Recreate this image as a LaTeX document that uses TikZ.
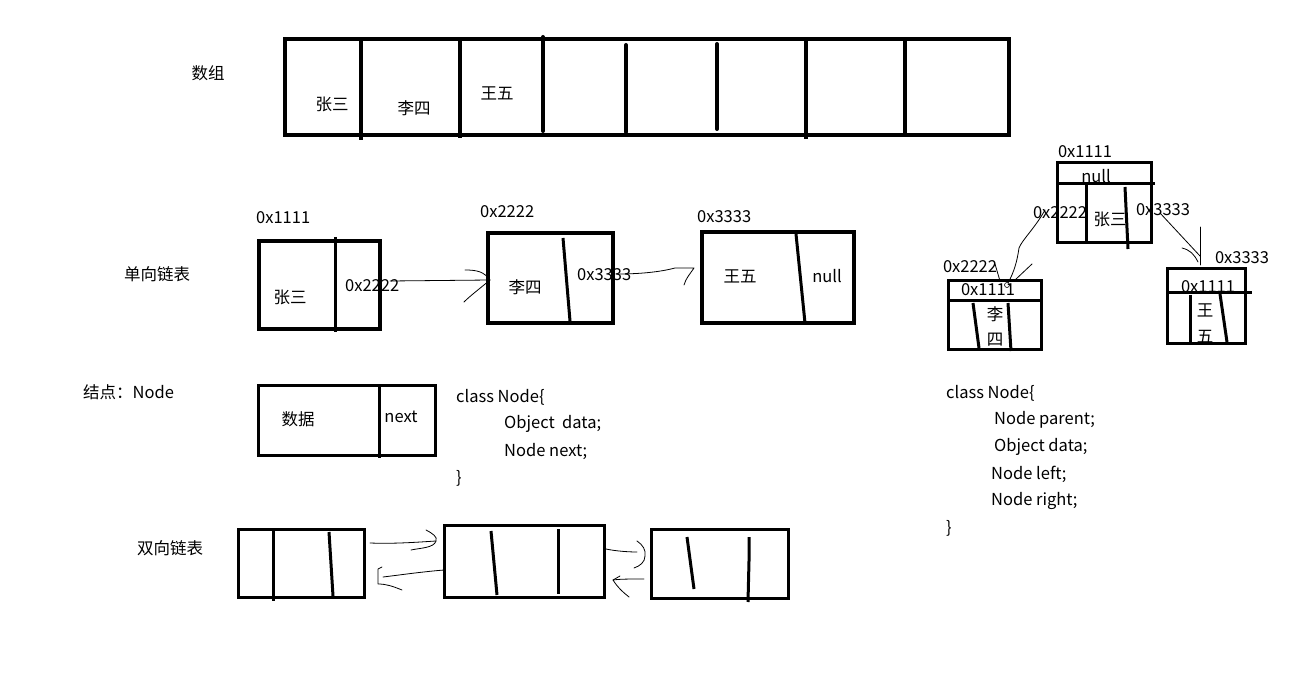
\documentclass[tikz,border=0pt]{standalone}
\usepackage{fontspec}
\setmainfont{Noto Sans CJK SC}
\begin{document}
\begin{tikzpicture}[x=1pt,y=-1pt,
  heavybox/.style={draw, line width=4pt, inner sep=0pt, outer sep=0pt},
  box/.style={draw, line width=3pt, inner sep=0pt, outer sep=0pt},
  div/.style={line width=3pt},
  heavydiv/.style={line width=4pt},
  txt/.style={inner sep=0pt, font=\fontsize{16.5}{19}\selectfont},
  code/.style={txt, anchor=west},
  hand/.style={line width=0.8pt, line cap=round, line join=round}]
\useasboundingbox (0,0) rectangle (1315,676);
\fill[white] (0,0) rectangle (1315,676);

% ---- left labels
\node[txt] (lArr) at (208,73) {数组};
\node[txt] (lSingle) at (157,274) {单向链表};
\node[txt, anchor=west] (lNode) at (83,392) {结点：Node};
\node[txt] (lDouble) at (170,548) {双向链表};

% ---- array
\node[heavybox, minimum width=724, minimum height=96] (arr) at (647,87) {};
\draw[heavydiv] (361,39) -- (361,140);
\draw[heavydiv] (460,39) -- (460,138);
\draw[heavydiv, line cap=round] (543,37) -- (543,131);
\draw[heavydiv, line cap=round] (626,45) -- (626,132);
\draw[heavydiv, line cap=round] (717,44) -- (717,129);
\draw[heavydiv] (806,39) -- (806,139);
\draw[heavydiv] (905,39) -- (905,135);
\node[txt] (a0) at (332,104) {张三};
\node[txt] (a1) at (414,108) {李四};
\node[txt] (a2) at (497,93) {王五};

% ---- singly linked list
\node[heavybox, minimum width=121, minimum height=88] (n1) at (319.5,285) {};
\draw[div] (335,237) -- (335,332);
\node[txt, anchor=west] (n1addr) at (256,218) {0x1111};
\node[txt] (n1d) at (290,297) {张三};
\node[txt, anchor=west] (n1n) at (345,286) {0x2222};

\node[heavybox, minimum width=125, minimum height=90] (n2) at (550.5,278) {};
\draw[div] (563,238) -- (570,321);
\node[txt, anchor=west] (n2addr) at (480,212) {0x2222};
\node[txt] (n2d) at (525,287) {李四};
\node[txt, anchor=west] (n2n) at (577,275) {0x3333};

\node[heavybox, minimum width=152, minimum height=91] (n3) at (778,277.5) {};
\draw[div] (796,234) -- (805,323);
\node[txt, anchor=west] (n3addr) at (697,217) {0x3333};
\node[txt] (n3d) at (740,276) {王五};
\node[txt] (n3n) at (827,276) {null};

\coordinate (s1a) at (390,281);
\coordinate (s1b) at (490,280);
\draw[hand] (s1a) -- (s1b);
\draw[hand] (465,270) .. controls (478,270) and (484,272) .. (s1b) .. controls (478,290) and (470,296) .. (464,302);
\coordinate (s2a) at (617,274);
\coordinate (s2b) at (694,268);
\draw[hand] (s2a) .. controls (640,274) and (660,272) .. (675,268) -- (s2b) .. controls (690,274) and (686,278) .. (684,285);

% ---- node structure
\node[box, minimum width=177, minimum height=70] (nd) at (346.5,420) {};
\draw[div] (379,385) -- (379,458);
\node[txt] (ndd) at (298,419) {数据};
\node[txt] (ndn) at (401,417) {next};
\node[code] (c1) at (456,397) {class Node\{};
\node[code] (c2) at (504,424) {Object\ \ data;};
\node[code] (c3) at (504,451) {Node next;};
\node[code] (c4) at (456,478) {\}};

% ---- doubly linked list
\node[box, minimum width=126, minimum height=68] (d1) at (301,563) {};
\draw[div] (273,529) -- (273,601);
\draw[div] (329,532) -- (333,596);
\node[box, minimum width=160, minimum height=72] (d2) at (524,561) {};
\draw[div] (491,531) -- (497,595);
\draw[div] (558,529) -- (558,594);
\node[box, minimum width=137, minimum height=69] (d3) at (719.5,563.5) {};
\draw[div] (687,537) -- (694,589);
\draw[div] (749,537) -- (749,561) -- (748,602);

\coordinate (dA1) at (370,543);
\coordinate (dA2) at (436,541);
\draw[hand] (dA1) .. controls (395,544) and (420,542) .. (dA2);
\draw[hand] (426,530) .. controls (432,533) and (438,537) .. (dA2) .. controls (434,548) and (420,548) .. (411,550);
\coordinate (dB1) at (444,570);
\coordinate (dB2) at (383,577);
\draw[hand] (dB1) .. controls (420,572) and (400,575) .. (dB2);
\draw[hand] (382,567) -- (378,569) -- (378,584) .. controls (386,584) and (392,586) .. (402,590);
\coordinate (dC1) at (606,549);
\coordinate (dC2) at (637,552);
\draw[hand] (dC1) .. controls (615,551) and (628,552) .. (dC2);
\draw[hand] (637,541) .. controls (643,545) and (646,550) .. (645,556) .. controls (645,562) and (640,566) .. (634,568);
\coordinate (dD1) at (644,579);
\coordinate (dD2) at (613,580);
\draw[hand] (dD1) .. controls (630,579) and (620,579) .. (dD2);
\draw[hand] (620,576) -- (dD2) .. controls (618,588) and (624,593) .. (629,597);

% ---- tree
\node[box, minimum width=94, minimum height=80] (t0) at (1104.5,202.5) {};
\draw[div] (1057,184) -- (1155,184);
\draw[div] (1086,184) -- (1086,242);
\draw[div] (1125,187) -- (1128,249);
\node[txt] (t0addr) at (1085,152) {0x1111};
\node[txt] (t0p) at (1096,176) {null};
\node[txt] (t0d) at (1110,219) {张三};
\node[txt] (t0l) at (1060,213) {0x2222};
\node[txt] (t0r) at (1163,210) {0x3333};

\node[box, minimum width=93, minimum height=69] (t1) at (994.5,315.5) {};
\draw[div] (948,301) -- (1041,301);
\draw[div] (973,303) -- (979,348);
\draw[div] (1008,303) -- (1011,351);
\node[txt] (t1addr) at (970,267) {0x2222};
\node[txt] (t1p) at (988,290) {0x1111};
\node[txt] (t1d1) at (995,314) {李};
\node[txt] (t1d2) at (995,340) {四};

\node[box, minimum width=78, minimum height=75] (t2) at (1206,306.5) {};
\draw[div] (1167,293) -- (1252,293);
\draw[div] (1190,295) -- (1190,342);
\draw[div] (1220,294) -- (1227,342);
\node[txt] (t2addr) at (1242,258) {0x3333};
\node[txt] (t2p) at (1208,287) {0x1111};
\node[txt] (t2d1) at (1205,310) {王};
\node[txt] (t2d2) at (1205,337) {五};

\coordinate (tL1) at (1045,210);
\coordinate (tL2) at (1008,283);
\draw[hand] (tL1) .. controls (1035,228) and (1022,240) .. (1019,248) .. controls (1017,262) and (1014,272) .. (tL2);
\draw[hand] (995,264) -- (1000,281);
\draw[hand] (1032,264) -- (1015,280);
\draw[line width=0.6pt] (1007,285) circle (2.5);
\coordinate (tR1) at (1160,213);
\coordinate (tR2) at (1200,256);
\draw[hand] (tR1) -- (tR2);
\draw[hand] (1200,227) -- (1200,265);
\draw[hand] (1182,248) .. controls (1190,250) and (1194,254) .. (1198,262);

\node[code] (k1) at (946,393) {class Node\{};
\node[code] (k2) at (994,420) {Node parent;};
\node[code] (k3) at (994,447) {Object data;};
\node[code] (k4) at (991,474) {Node left;};
\node[code] (k5) at (991,501) {Node right;};
\node[code] (k6) at (946,528) {\}};
\end{tikzpicture}
\end{document}
